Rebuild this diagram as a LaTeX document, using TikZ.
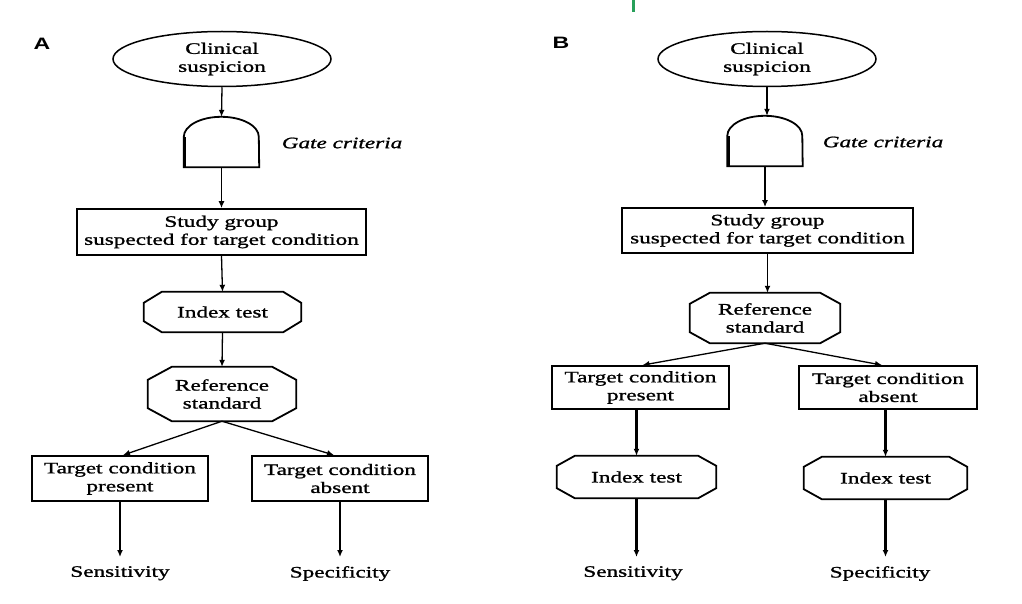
\documentclass[tikz,border=0pt]{standalone}
\usepackage{fontspec}
\setmainfont{Liberation Serif}[FakeStretch=1.45,FakeBold=1.2]
\newfontfamily\labelfont{Liberation Sans}[FakeStretch=1.4]
\usetikzlibrary{arrows.meta,shapes.geometric,calc}
\definecolor{markgreen}{RGB}{40,160,90}
\newcommand\drawoct[3]{\draw[octline] ([xshift=#2]#1.north west) -- ([xshift=-#2]#1.north east) -- ([yshift=-#3]#1.north east) -- ([yshift=#3]#1.south east) -- ([xshift=-#2]#1.south east) -- ([xshift=#2]#1.south west) -- ([yshift=#3]#1.south west) -- ([yshift=-#3]#1.north west) -- cycle;}
\newcommand\drawgate[1]{\draw[octline] (#1.south west) -- ([yshift=-20pt]#1.north west) arc[start angle=180,end angle=0,x radius=37.5pt,y radius=20pt] -- (#1.south east) -- cycle;
  \draw[line width=2.8pt] ([xshift=1pt]#1.south west) -- ([xshift=1pt,yshift=-20pt]#1.north west);}
\tikzset{
  every node/.style={font=\fontsize{16}{18}\selectfont},
  conn/.style={line width=1.3pt,-{Latex[length=7pt,width=6pt]}},
  connthick/.style={conn,line width=2.1pt},
  box/.style={draw,line width=1.8pt,rectangle,align=center,inner sep=0pt},
  ell/.style={draw,line width=1.5pt,ellipse,minimum width=218pt,minimum height=55pt,inner sep=0pt,align=center},
  ghost/.style={rectangle,inner sep=0pt,align=center},
  octline/.style={line width=1.8pt},
  sink/.style={inner xsep=0pt,inner ysep=9pt,anchor=north},
  gatelabel/.style={font=\itshape\fontsize{16}{18}\selectfont},
  lab/.style={font=\labelfont\bfseries\fontsize{16.5}{20}\selectfont}
}
\begin{document}
\begin{tikzpicture}[x=1pt,y=-1pt]
\useasboundingbox (0,0) rectangle (1022,604);
\fill[markgreen] (632,0) rectangle (635,12);

% ---------- Panel A ----------
\node[lab] (labA) at (42,44) {A};
\node[ell] (ellA) at (222,59) {Clinical\\suspicion};
\node[ghost,minimum width=75pt,minimum height=50pt] (gateA) at (221.5,142) {};
\drawgate{gateA}
\node[gatelabel] (gcA) at (342,143) {Gate criteria};
\node[box,minimum width=289pt,minimum height=46pt] (studyA) at (221.5,232) {Study group\\suspected for target condition};
\node[ghost,minimum width=157pt,minimum height=40pt] (idxA) at (222.5,312) {Index test};
\drawoct{idxA}{18pt}{11pt}
\node[ghost,minimum width=148pt,minimum height=54pt] (refA) at (222,394) {Reference\\standard};
\drawoct{refA}{24pt}{13pt}
\node[box,minimum width=176pt,minimum height=45pt] (tpA) at (120,478.5) {Target condition\\present};
\node[box,minimum width=176pt,minimum height=45pt] (taA) at (340,478.5) {Target condition\\absent};
\node[sink] (senA) at (120,557) {Sensitivity};
\node[sink] (spA) at (340,557) {Specificity};

\draw[conn] (ellA.south) -- (gateA.north);
\draw[conn] (gateA.south) -- (studyA.north);
\draw[conn] (studyA.south) -- (idxA.north);
\draw[conn] (idxA.south) -- (refA.north);
\draw[conn] (refA.south) -- ([xshift=3pt]tpA.north);
\draw[conn] (refA.south) -- ([xshift=-6pt]taA.north);
\draw[conn] (tpA.south) -- (senA.north);
\draw[connthick] (taA.south) -- (spA.north);

% ---------- Panel B ----------
\node[lab] (labB) at (561,43) {B};
\node[ell] (ellB) at (767,59) {Clinical\\suspicion};
\node[ghost,minimum width=75pt,minimum height=50pt] (gateB) at (765,141) {};
\drawgate{gateB}
\node[gatelabel] (gcB) at (883,142) {Gate criteria};
\node[box,minimum width=291pt,minimum height=45pt] (studyB) at (767.5,230.5) {Study group\\suspected for target condition};
\node[ghost,minimum width=150pt,minimum height=50pt] (refB) at (765,318) {Reference\\standard};
\drawoct{refB}{20pt}{11pt}
\node[box,minimum width=177pt,minimum height=43pt] (tpB) at (640.5,387.5) {Target condition\\present};
\node[box,minimum width=178pt,minimum height=43pt] (taB) at (888,387.5) {Target condition\\absent};
\node[ghost,minimum width=159pt,minimum height=42pt] (idxBl) at (636.5,477) {Index test};
\drawoct{idxBl}{18pt}{10pt}
\node[ghost,minimum width=163pt,minimum height=42pt] (idxBr) at (885.5,478) {Index test};
\drawoct{idxBr}{18pt}{10pt}
\node[sink] (senB) at (633,557) {Sensitivity};
\node[sink] (spB) at (880,557) {Specificity};

\draw[conn] (ellB.south) -- (ellB.south |- gateB.north);
\draw[conn] (gateB.south) -- (gateB.south |- studyB.north);
\draw[conn] (studyB.south) -- (studyB.south |- refB.north);
\draw[conn] (refB.south) -- ([xshift=2pt]tpB.north);
\draw[conn] (refB.south) -- ([xshift=-6pt]taB.north);
\draw[connthick] (idxBl.north |- tpB.south) -- (idxBl.north);
\draw[connthick] (idxBr.north |- taB.south) -- (idxBr.north);
\draw[connthick] (idxBl.south) -- (idxBl.south |- senB.north);
\draw[connthick] (idxBr.south) -- (idxBr.south |- spB.north);
\end{tikzpicture}
\end{document}
